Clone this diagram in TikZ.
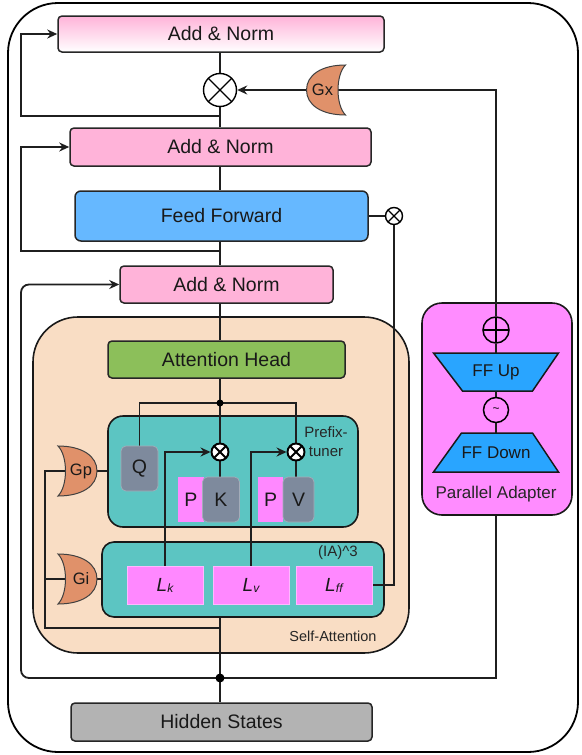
\documentclass[tikz,border=0pt]{standalone}
\usepackage{fontspec}
\setmainfont{Liberation Sans}
\usetikzlibrary{arrows.meta,calc}
\pgfdeclarelayer{bg}
\pgfdeclarelayer{lines}
\pgfsetlayers{bg,lines,main}
\definecolor{anpink}{HTML}{FFB3D9}
\definecolor{ffblue}{HTML}{66B8FF}
\definecolor{ahgreen}{HTML}{8CBF5A}
\definecolor{peach}{HTML}{F9DDC4}
\definecolor{tealbox}{HTML}{5CC5C2}
\definecolor{qgray}{HTML}{7E8A9D}
\definecolor{qborder}{HTML}{A3ACB9}
\definecolor{ppink}{HTML}{FF88FF}
\definecolor{pborder}{HTML}{FFB8FF}
\definecolor{pamag}{HTML}{FF8CFF}
\definecolor{ffupblue}{HTML}{29A5FF}
\definecolor{gorange}{HTML}{E0916A}
\definecolor{hsgray}{HTML}{B3B3B3}
\newcommand\fsz[1]{\fontsize{#1}{#1}\selectfont}
\tikzset{
  box/.style={draw=black!85, line width=1.5pt, rounded corners=4pt, inner sep=0pt, font=\fsz{19.5}, text=black!90},
  kbox/.style={fill=qgray, draw=qborder, line width=0.7pt, rounded corners=5pt, inner sep=0pt, minimum height=45pt, font=\fsz{19.5}, text=black!90},
  pbox/.style={fill=ppink, inner sep=0pt, minimum height=45pt, font=\fsz{19.5}, text=black!90},
  lbox/.style={fill=ppink, draw=pborder, line width=0.7pt, inner sep=0pt, minimum width=76pt, minimum height=38pt, text=black!90},
  container/.style={draw=black!90, line width=1.6pt},
  conn/.style={line width=1.8pt, draw=black!88},
  arr/.style={conn, -{Stealth[length=10pt,width=9pt]}},
  xmark/.style={circle, draw=black, fill=white, inner sep=0pt, line width=1.4pt,
    path picture={\draw[line width=1.4pt] (path picture bounding box.north west) -- (path picture bounding box.south east) (path picture bounding box.south west) -- (path picture bounding box.north east);}},
  boldx/.style={circle, draw=black, fill=white, inner sep=0pt, line width=1.9pt, minimum size=17pt,
    path picture={\draw[line width=1.9pt] (path picture bounding box.north west) -- (path picture bounding box.south east) (path picture bounding box.south west) -- (path picture bounding box.north east);}},
  pmark/.style={circle, draw=black, inner sep=0pt, line width=1.5pt,
    path picture={\draw[line width=1.5pt] (path picture bounding box.north) -- (path picture bounding box.south) (path picture bounding box.west) -- (path picture bounding box.east);}},
  gatetext/.style={inner sep=1pt, font=\fsz{16.5}, text=black!90},
  gate/.pic={\path[fill=gorange, draw=black!75, line width=1pt] (-23,-25) .. controls (1,-25) and (16,-15) .. (16,0) .. controls (16,15) and (1,25) .. (-23,25) .. controls (-13,15) and (-13,-15) .. (-23,-25) -- cycle;},
  trap/.style={fill=ffupblue, draw=black!90, line width=1.5pt},
  lab/.style={inner sep=0pt, text=black!85},
  dot/.style={circle, fill=black, inner sep=0pt}
}
\begin{document}
\begin{tikzpicture}[x=1pt,y=-1pt]
\useasboundingbox (0,0) rectangle (581,755);
% containers
\begin{pgfonlayer}{bg}
\draw[line width=1.8pt, rounded corners=50pt] (8,3) rectangle (578,752);
\node[container, fill=peach, rounded corners=45pt, minimum width=376pt, minimum height=336pt] (sa) at (221,485) {};
\node[container, fill=tealbox, rounded corners=15pt, minimum width=250pt, minimum height=111pt] (pre) at (233,471.5) {};
\node[container, fill=tealbox, rounded corners=12pt, minimum width=282pt, minimum height=75pt] (ia) at (243,579.5) {};
\node[container, fill=pamag, rounded corners=20pt, minimum width=150pt, minimum height=212pt] (pa) at (497,409) {};
\end{pgfonlayer}
% main boxes
\node[box, top color=anpink, bottom color=white, minimum width=326pt, minimum height=36pt] (an1) at (221,34) {Add \& Norm};
\node[box, fill=anpink, minimum width=301pt, minimum height=38pt] (an2) at (220.5,147) {Add \& Norm};
\node[box, fill=ffblue, rounded corners=6pt, minimum width=293pt, minimum height=50pt] (ff) at (221.5,216) {Feed Forward};
\node[box, fill=anpink, minimum width=213pt, minimum height=37pt] (an3) at (226.5,284.5) {Add \& Norm};
\node[box, fill=ahgreen, minimum width=237pt, minimum height=37pt] (ah) at (226.5,359.5) {Attention Head};
\node[box, fill=hsgray, minimum width=301pt, minimum height=38pt] (hs) at (221.5,722) {Hidden States};
% operators
\node[xmark, minimum size=33pt] (ox) at (220,90) {};
\node[xmark, minimum size=17pt] (sx) at (394,216) {};
\node[boldx] (kx) at (220,452) {};
\node[boldx] (vx) at (296,452) {};
\node[dot, minimum size=7pt] (jd) at (220,403) {};
\node[dot, minimum size=9pt] (j) at (220,678) {};
% prefix tuner content
\node[kbox, minimum width=37pt] (q) at (139.5,468.5) {Q};
\node[pbox, minimum width=26pt] (pk) at (191,499.5) {P};
\node[kbox, minimum width=37pt] (k) at (221,499.5) {K};
\node[pbox, minimum width=25pt] (pv) at (270.5,499.5) {P};
\node[kbox, minimum width=31pt] (v) at (298.5,499.5) {V};
\node[lab, align=center, font=\fontsize{15}{19}\selectfont] (prelab) at (326,442) {Prefix-\\tuner};
% IA3 content
\node[lbox] (lk) at (165,585) {\fsz{19}\itshape L\raisebox{-1pt}{\fsz{12}k}};
\node[lbox] (lv) at (251,585) {\fsz{19}\itshape L\raisebox{-1pt}{\fsz{12}v}};
\node[lbox] (lff) at (334,585) {\fsz{19}\itshape L\raisebox{-1pt}{\fsz{12}f\kern0.3pt f}};
\node[lab, font=\fsz{15}] (ialab) at (338,553) {(IA)\textasciicircum 3};
\node[lab, font=\fsz{14.5}] (salab) at (333,636) {Self-Attention};
% gates
\pic at (81,471) {gate};
\node[gatetext] (gp) at (81,471) {Gp};
\pic at (81,579) {gate};
\node[gatetext] (gi) at (81,579) {Gi};
\pic[xscale=-1] at (322.5,90) {gate};
\node[gatetext] (gx) at (322.5,90) {Gx};
% parallel adapter
\node[pmark, minimum size=26pt] (oplus) at (496,330) {};
\path[trap] (433.5,353) -- (558.5,353) -- (532.5,391) -- (462.5,391) -- cycle;
\node[inner sep=0pt, minimum width=70pt, minimum height=38pt, font=\fsz{17}, text=black!90] (ffup) at (496,372) {FF Up};
\node[circle, draw=black, line width=1.5pt, inner sep=0pt, minimum size=25pt, font=\fsz{12}] (tl) at (496,410) {\textasciitilde};
\path[trap] (461.5,433) -- (532.5,433) -- (558.5,472) -- (433.5,472) -- cycle;
\node[inner sep=0pt, minimum width=70pt, minimum height=39pt, font=\fsz{17}, text=black!90] (ffdown) at (496,452.5) {FF Down};
\node[lab, font=\fsz{17}] (palab) at (496,494) {Parallel Adapter};
% helper coordinates
\coordinate (L) at (21,0);
\coordinate (G) at (45,0);
\coordinate (l1) at (220,116);
\coordinate (l2) at (220,251);
\coordinate (gl) at (220,628);
% connectors
\begin{pgfonlayer}{lines}
\draw[conn] (ox.north) -- (ox.north |- an1.south);
\draw[conn] (ox.south) -- (ox.south |- an2.north);
\draw[conn] (an2.south -| ox) -- (ff.north -| ox);
\draw[conn] (ff.south -| ox) -- (an3.north -| ox);
\draw[conn] (an3.south -| ox) -- (ah.north -| ox);
\draw[conn] (ah.south -| ox) -- (jd.center);
\draw[conn] (jd.center) -- (kx.north);
\draw[conn] (q.north) |- (jd.center) -| (vx.north);
\draw[conn] (kx.south) -- (kx.south |- k.north);
\draw[conn] (vx.south) -- (vx.south |- v.north);
\draw[arr] (lk.north) |- (kx.west);
\draw[arr] (lv.north) |- (vx.west);
\draw[conn] (lff.east) -| (sx.south);
\draw[conn] (ff.east) -- (sx.west);
\draw[arr] (gx.center) -- (ox.east);
\draw[conn] (gx.center) -| (oplus.north);
\draw[conn] (oplus.south) -- (ffup.north);
\draw[conn] (ffup.south) -- (tl.north);
\draw[conn] (tl.south) -- (ffdown.north);
\draw[conn] (pa.south -| oplus) |- (j.center);
\draw[conn] (j.center) -- (j |- hs.north);
\draw[conn] (j.center) -- (j |- ia.south);
\draw[arr] (l1) -| (L |- an1.west) -- (an1.west);
\draw[arr] (l2) -| (L |- an2.west) -- (an2.west);
\draw[arr, rounded corners=8pt] (j.center) -| (L |- an3.west) -- (an3.west);
\draw[conn] (gl) -| (G |- gp.center) -- (gp.center);
\draw[conn] (G |- gi.center) -- (gi.center);
\draw[conn] (gp.center) -- (pre.west |- gp.center);
\draw[conn] (gi.center) -- (ia.west |- gi.center);
\end{pgfonlayer}
\end{tikzpicture}
\end{document}
